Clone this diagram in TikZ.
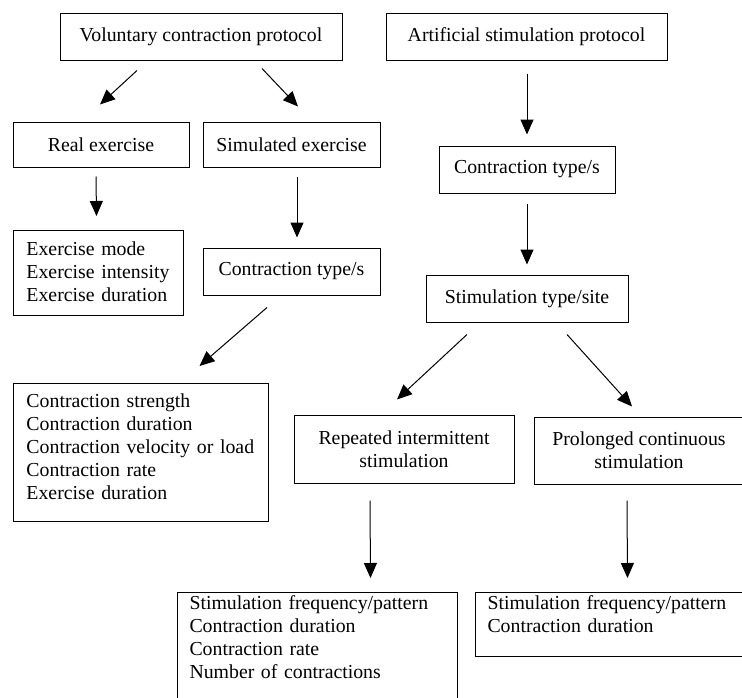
\documentclass[tikz,border=0pt]{standalone}
\usepackage{fontspec}
\setmainfont{Liberation Serif}
\usepackage{tikz}
\usetikzlibrary{arrows.meta,positioning,calc}
\tikzset{
  box/.style={draw,line width=1pt,align=center,inner sep=0pt,font=\fontsize{19.8}{23}\selectfont},
  boxl/.style={box,align=left,anchor=north west,inner xsep=13pt,inner ysep=0pt},
  arr/.style={-{Triangle[length=15pt,width=13pt]},line width=1pt},
}
\begin{document}
\begin{tikzpicture}[x=1pt,y=-1pt]
\useasboundingbox (0,0) rectangle (742,697);
\node[box,minimum width=282pt,minimum height=47pt] (vol) at (201,36.5) {Voluntary contraction protocol};
\node[box,minimum width=281pt,minimum height=47pt] (art) at (526.5,36.5) {Artificial stimulation protocol};
\node[box,minimum width=176pt,minimum height=45pt] (real) at (101,144.5) {Real exercise};
\node[box,minimum width=177pt,minimum height=45pt] (sim) at (291.5,144.5) {Simulated exercise};
\node[boxl,text width=144pt,text height=25pt,text depth=60pt] (exlist) at (13,230) {Exercise mode\\Exercise intensity\\Exercise duration};
\node[box,minimum width=177pt,minimum height=47pt] (ctl) at (291.5,271.5) {Contraction type/s};
\node[box,minimum width=176pt,minimum height=47pt] (ctr) at (527,169.5) {Contraction type/s};
\node[box,minimum width=202pt,minimum height=47pt] (stype) at (527,298.5) {Stimulation type/site};
\node[boxl,text width=229pt,text height=24pt,text depth=114pt] (conlist) at (13,383) {Contraction strength\\Contraction duration\\Contraction velocity or load\\Contraction rate\\Exercise duration};
\node[box,minimum width=220pt,minimum height=68pt] (rep) at (404,449) {Repeated intermittent\\stimulation};
\node[box,minimum width=210pt,minimum height=67pt] (pro) at (639,450.5) {Prolonged continuous\\stimulation};
\node[boxl,inner xsep=12pt,text width=256pt,text height=17pt,text depth=100pt] (stimlist) at (177,592) {Stimulation frequency/pattern\\Contraction duration\\Contraction rate\\Number of contractions};
\node[boxl,inner xsep=12pt,text width=251pt,text height=17pt,text depth=47pt] (stimlist2) at (475,592) {Stimulation frequency/pattern\\Contraction duration};
% connectors
\draw[arr]($(vol.south)+(-64,10)$)--($(real.north)+(-1,-17)$);\draw[arr]($(vol.south)+(61,8)$)--($(sim.north)+(6.5,-15)$);
\draw[arr]($(art.south)+(0.5,13)$)--($(ctr.north)+(0,-11)$);\draw[arr]($(ctr.south)+(0,10)$)--($(stype.north)+(0,-10)$);
\draw[arr]($(real.south)+(-5,9)$)--($(exlist.north)+(-2,-14)$);\draw[arr]($(sim.south)+(5.5,9)$)--($(ctl.north)+(5.5,-10)$);
\draw[arr]($(ctl.south)+(-24.5,12)$)--($(conlist.north)+(58.5,-17)$);
\draw[arr]($(stype.south)+(-60,12)$)--($(rep.north)+(-7,-15)$);\draw[arr]($(stype.south)+(40,12)$)--($(pro.north)+(-7,-10)$);
\draw[arr]($(rep.south)+(-34,17)$)--($(stimlist.north)+(53,-14)$);\draw[arr]($(pro.south)+(-12,16)$)--($(stimlist2.north)+(14.5,-14)$);
\end{tikzpicture}
\end{document}
